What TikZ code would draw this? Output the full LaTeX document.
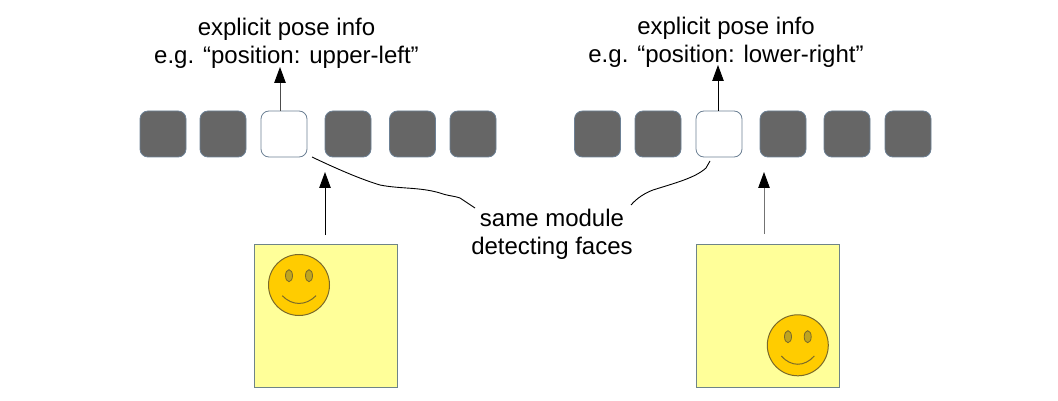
\documentclass[tikz,border=0pt]{standalone}
\usepackage{fontspec}
\setmainfont{Liberation Sans}
\usetikzlibrary{arrows.meta,shapes.geometric}
\tikzset{
  x=1pt,y=-1pt,
  cell/.style={draw=#1,rounded corners=8pt,minimum size=46pt,inner sep=0pt,line width=0.8pt},
  darkcell/.style={cell={cellblue},fill=cellgray},
  whitecell/.style={cell={cellblue},fill=white},
  scene/.style={draw=sceneedge,fill=sceneyellow,minimum size=143pt,inner sep=0pt,line width=0.9pt},
  face/.style={circle,draw=faceedge,fill=facefill,minimum size=61pt,inner sep=0pt,line width=1pt},
  eye/.style={ellipse,draw=faceedge,fill=eyefill,minimum width=7pt,minimum height=12pt,inner sep=0pt,line width=0.8pt},
  smile/.style={draw=faceedge,line width=1pt},
  label/.style={align=center,font=\fontsize{24}{28.2}\selectfont,inner sep=0pt,text=black},
  arrow/.style={-{Triangle[length=16pt,width=11.5pt,black]},line width=0.9pt,draw=#1},
  lead/.style={draw=black,line width=0.9pt}
}
\definecolor{cellgray}{HTML}{666666}
\definecolor{cellblue}{HTML}{6C8094}
\definecolor{sceneyellow}{HTML}{FFFF99}
\definecolor{sceneedge}{HTML}{6E8488}
\definecolor{facefill}{HTML}{FFCC00}
\definecolor{faceedge}{HTML}{7A6A2A}
\definecolor{eyefill}{HTML}{BFA420}
\begin{document}
\begin{tikzpicture}
\useasboundingbox (0,0) rectangle (1058,401);
\node[label] (textA) at (286.5,43) {explicit pose info\\e.g. “position: upper-left”};
\node[label] (textB) at (726,42) {explicit pose info\\e.g. “position: lower-right”};
\node[label] (textC) at (552,234) {same module\\detecting faces};
\node[darkcell] (a1) at (163,134) {};
\node[darkcell] (a2) at (223,134) {};
\node[whitecell] (a3) at (284,134) {};
\node[darkcell] (a4) at (348,134) {};
\node[darkcell] (a5) at (412.5,134) {};
\node[darkcell] (a6) at (473,134) {};
\node[darkcell] (b1) at (597.5,134) {};
\node[darkcell] (b2) at (658,134) {};
\node[whitecell] (b3) at (719,134) {};
\node[darkcell] (b4) at (783,134) {};
\node[darkcell] (b5) at (847,134) {};
\node[darkcell] (b6) at (908,134) {};
\node[scene] (sa) at (325.5,315.5) {};
\node[scene] (sb) at (767.5,315.5) {};
\node[face] (fa) at (299,285) {};
\node[eye] (fa1) at (289,275.7) {};
\node[eye] (fa2) at (309,275.7) {};
\draw[smile] (282.3,295.7) .. controls (292,306) and (306,306) .. (316,295.7);
\node[face] (fb) at (797.8,345.3) {};
\node[eye] (fb1) at (788,336.7) {};
\node[eye] (fb2) at (807.7,336.7) {};
\draw[smile] (781.3,356) .. controls (791,367) and (804.5,367) .. (814.3,356);
\coordinate (topA) at (280,67);
\coordinate (topB) at (718,65);
\coordinate (tipA) at (325,172);
\coordinate (tipB) at (764,172);
\coordinate (tailA) at (325,235);
\coordinate (tailB) at (764,234);
\coordinate (leadA) at (312,157);
\coordinate (leadB) at (710,161);
\coordinate (endA) at (475,208);
\coordinate (endB) at (631,205);
\draw[arrow={black!70}] (a3.north -| topA) -- (topA);
\draw[arrow=black] (b3.north -| topB) -- (topB);
\draw[arrow=black] (tailA) -- (tipA);
\draw[arrow={black!55}] (tailB) -- (tipB);
\draw[lead] (leadA) .. controls (335,168) and (360,179) .. (380,185) .. controls (400,189) and (420,187) .. (440,193) .. controls (448,196) and (455,196) .. (460,198) -- (endA);
\draw[lead] (leadB) -- (706,168) .. controls (695,178) and (675,183) .. (653,190) .. controls (645,193) and (637,198) .. (endB);
\end{tikzpicture}
\end{document}
